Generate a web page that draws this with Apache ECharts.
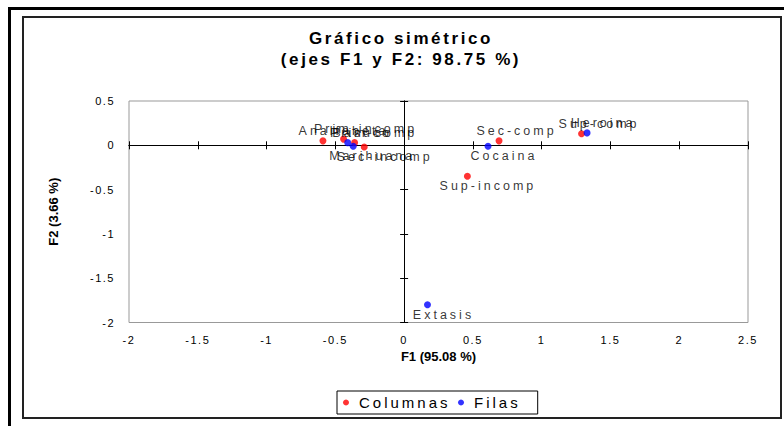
<!DOCTYPE html>
<html><head><meta charset="utf-8">
<script src="https://cdn.jsdelivr.net/npm/echarts@6/dist/echarts.min.js"></script>
<style>
html,body{margin:0;padding:0;background:#fff;}
#c{width:784px;height:426px;}
#c svg text{letter-spacing:3px;}
#c svg text[style*="11px"]{letter-spacing:1.5px;}
#c svg text[style*="13px"][style*="bold"]{letter-spacing:0;}
#c svg text[style*="17px"]{letter-spacing:2.6px;}
</style></head><body><div id="c"></div>
<script>
// ---- data ----
const xTicks = [-2, -1.5, -1, -0.5, 0, 0.5, 1, 1.5, 2, 2.5];
const yTicks = [-2, -1.5, -1, -0.5, 0, 0.5];

const colNames = ['Analfabeta', 'Prim-incomp', 'Prim-comp', 'Sec-incomp', 'Sec-comp', 'Sup-incomp', 'Sup-comp'];
const colX = [-0.59, -0.44, -0.36, -0.29, 0.69, 0.46, 1.29];
const colY = [0.05, 0.07, 0.03, -0.02, 0.05, -0.35, 0.13];

const rowNames = ['Heroina', 'Cocaina', 'Extasis', 'Basuco', 'Marihuana'];
const rowX = [1.33, 0.61, 0.17, -0.41, -0.37];
const rowY = [0.14, -0.01, -1.80, 0.03, -0.01];

const colLabelPlace = ['top', 'top', 'top', 'bottom', 'top', 'bottom', 'top'];
const rowLabelPlace = ['top', 'bottom', 'bottom', 'top', 'bottom'];

const seriesNames = ['Columnas', 'Filas'];
const titleText = 'Gráfico simétrico\n(ejes F1 y F2: 98.75 %)';
const xName = 'F1 (95.08 %)';
const yName = 'F2 (3.66 %)';

// ---- chart ----
const FONT = 'Liberation Sans, Arial, sans-serif';
const chart = echarts.init(document.getElementById('c'), null, {renderer: 'svg'});

function pts(xs, ys, names, places) {
  return xs.map((x, i) => ({
    name: names[i],
    value: [x, ys[i]],
    label: {position: places[i], offset: [(names[i].length - 1) * 1.5 + 7, 0]}
  }));
}

const xMin = xTicks[0], xMax = xTicks[xTicks.length - 1], xInt = xTicks[1] - xTicks[0];
const yMin = yTicks[0], yMax = yTicks[yTicks.length - 1], yInt = yTicks[1] - yTicks[0];

function zeroAxis(inside, isX) {
  return {
    type: 'value', min: isX ? xMin : yMin, max: isX ? xMax : yMax, interval: isX ? xInt : yInt,
    position: isX ? 'bottom' : 'left',
    axisLine: {show: true, onZero: true, lineStyle: {color: '#000', width: 1}},
    axisTick: {show: true, inside: inside, length: 4, lineStyle: {color: '#000', width: 1}},
    axisLabel: {show: false},
    splitLine: {show: false}
  };
}

const labelCommon = {
  show: true, formatter: '{b}', color: '#000', fontSize: 12.5, fontFamily: FONT, distance: 0
};

chart.setOption({
  animation: false,
  backgroundColor: '#fff',
  title: {
    text: titleText, left: 401, top: 28, textAlign: 'center', padding: 0,
    textStyle: {fontSize: 17, fontWeight: 'bold', lineHeight: 21, color: '#000', fontFamily: FONT}
  },
  graphic: [
    {type: 'rect', shape: {x: 9.5, y: 8.5, width: 800, height: 500}, style: {fill: 'none', stroke: '#000', lineWidth: 3}, silent: true},
    {type: 'rect', shape: {x: 23, y: 17, width: 758, height: 401}, style: {fill: 'none', stroke: '#222', lineWidth: 2}, silent: true}
  ],
  legend: {
    left: 337, top: 391, orient: 'horizontal',
    padding: [4, 32, 4, 6], itemWidth: 16, itemHeight: 6, itemGap: 31.5,
    borderColor: '#000', borderWidth: 1, selectedMode: false,
    textStyle: {fontSize: 15, color: '#000', fontFamily: FONT},
    data: [{name: seriesNames[0], icon: 'circle'}, {name: seriesNames[1], icon: 'circle'}]
  },
  grid: {left: 129, right: 36, top: 101, bottom: 103.5, show: true, borderColor: '#999', borderWidth: 1, containLabel: false},
  xAxis: [
    {
      type: 'value', min: xMin, max: xMax, interval: xInt, position: 'bottom',
      axisLine: {show: false, onZero: false}, axisTick: {show: false}, splitLine: {show: false},
      axisLabel: {color: '#000', fontSize: 11, fontFamily: FONT, margin: 12},
      name: xName, nameLocation: 'middle', nameGap: 19,
      nameTextStyle: {fontSize: 13, fontWeight: 'bold', color: '#000', fontFamily: FONT}
    },
    zeroAxis(true, true),
    zeroAxis(false, true)
  ],
  yAxis: [
    {
      type: 'value', min: yMin, max: yMax, interval: yInt, position: 'left',
      axisLine: {show: false, onZero: false}, axisTick: {show: false}, splitLine: {show: false},
      axisLabel: {color: '#000', fontSize: 11, fontFamily: FONT, margin: 14},
      name: yName, nameLocation: 'middle', nameGap: 69, nameRotate: 90,
      nameTextStyle: {fontSize: 13, fontWeight: 'bold', color: '#000', fontFamily: FONT}
    },
    zeroAxis(true, false),
    zeroAxis(false, false)
  ],
  series: [
    {
      name: seriesNames[0], type: 'scatter', xAxisIndex: 0, yAxisIndex: 0,
      symbol: 'circle', symbolSize: 7, itemStyle: {color: '#ff0000'},
      label: labelCommon, emphasis: {disabled: true},
      data: pts(colX, colY, colNames, colLabelPlace)
    },
    {
      name: seriesNames[1], type: 'scatter', xAxisIndex: 0, yAxisIndex: 0,
      symbol: 'circle', symbolSize: 7, itemStyle: {color: '#0000ff'},
      label: labelCommon, emphasis: {disabled: true},
      data: pts(rowX, rowY, rowNames, rowLabelPlace)
    }
  ]
});
</script>
</body></html>
